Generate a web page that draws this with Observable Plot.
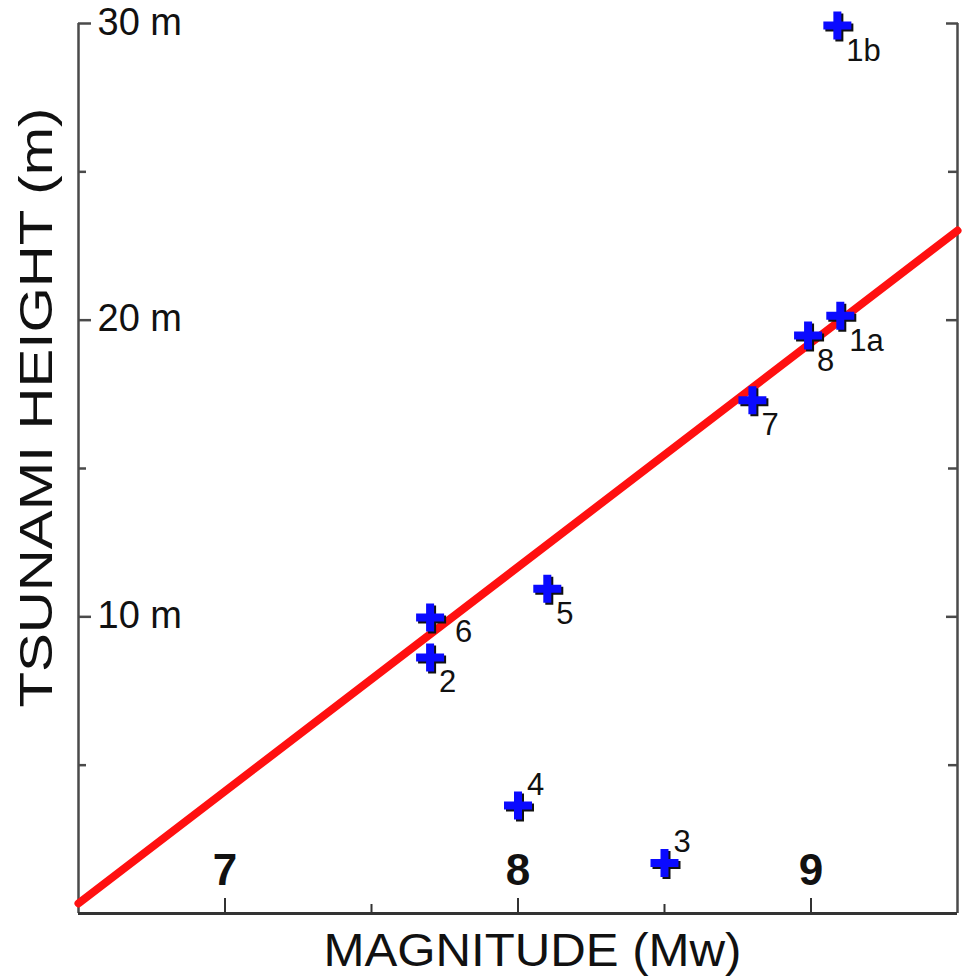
<!DOCTYPE html>
<html><head><meta charset="utf-8">
<script src="https://cdn.jsdelivr.net/npm/d3@7"></script>
<script src="https://cdn.jsdelivr.net/npm/@observablehq/plot@0.6"></script>
<style>body{margin:0;background:#fff}</style>
</head><body><div id="chart"></div>
<script>
// Data
const events = ["1a", "1b", "2", "3", "4", "5", "6", "7", "8"];
const magnitude = [9.1, 9.09, 7.7, 8.5, 8.0, 8.1, 7.7, 8.8, 8.99];
const tsunamiHeight = [20.15, 29.93, 8.63, 1.7, 3.64, 10.95, 9.98, 17.3, 19.48];
const labelPlacement = ["se", "se", "se", "ne", "ne", "se", "e", "se", "se"];
const fitMagnitude = [6.5, 9.5];
const fitHeight = [0.34, 23.02];
const yMajorTicks = [10, 20, 30];
const yMinorTicks = [5, 15, 25];
const xMajorTicks = [7, 8, 9];
const xMinorTicks = [7.5, 8.5];

const pts = events.map((e, i) => ({event: e, mag: magnitude[i], h: tsunamiHeight[i], place: labelPlacement[i]}));
const fit = fitMagnitude.map((m, i) => ({mag: m, h: fitHeight[i]}));
const offsets = {se: [9, 35], e: [25, 25], ne: [9, -11]};

const plusSymbol = {
  draw(ctx, size) {
    const r = Math.sqrt(size / Math.PI);
    ctx.moveTo(-r, 0); ctx.lineTo(r, 0);
    ctx.moveTo(0, -r); ctx.lineTo(0, r);
  }
};
const font = "'Liberation Sans', Arial, Helvetica, sans-serif";
const axisColor = "#4a4a4a";

const labelMarks = Object.entries(offsets).map(([k, [dx, dy]]) =>
  Plot.text(pts.filter(d => d.place === k), {
    x: "mag", y: "h", text: "event", dx, dy,
    textAnchor: "start", lineAnchor: "bottom", fontSize: 31, fill: "#111"
  })
);

const chart = Plot.plot({
  width: 965, height: 980,
  marginLeft: 78, marginRight: 8, marginTop: 23, marginBottom: 67,
  style: {fontFamily: font, background: "#fff", overflow: "visible"},
  x: {domain: [6.5, 9.5]},
  y: {domain: [0, 30]},
  marks: [
    Plot.ruleX([6.5], {stroke: axisColor, strokeWidth: 2.5}),
    Plot.ruleX([9.5], {stroke: axisColor, strokeWidth: 2.5}),
    Plot.ruleY([0], {stroke: "#333", strokeWidth: 3}),
    Plot.axisY({anchor: "left", ticks: yMajorTicks, tickSize: -13, tickFormat: () => "", label: null, stroke: axisColor, strokeWidth: 2.5}),
    Plot.axisY({anchor: "left", ticks: yMinorTicks, tickSize: -8, tickFormat: () => "", label: null, stroke: axisColor, strokeWidth: 2.5}),
    Plot.axisY({anchor: "right", ticks: yMajorTicks, tickSize: -12, tickFormat: () => "", label: null, stroke: axisColor, strokeWidth: 2.5}),
    Plot.axisY({anchor: "right", ticks: yMinorTicks, tickSize: -10, tickFormat: () => "", label: null, stroke: axisColor, strokeWidth: 2.5}),
    Plot.axisX({anchor: "bottom", ticks: xMajorTicks, tickSize: -15, tickFormat: () => "", label: null, stroke: "#333", strokeWidth: 2}),
    Plot.axisX({anchor: "bottom", ticks: xMinorTicks, tickSize: -9, tickFormat: () => "", label: null, stroke: "#333", strokeWidth: 2}),
    Plot.text(yMajorTicks, {y: d => d, text: d => `${d} m`, frameAnchor: "left", dx: 19, dy: -1, textAnchor: "start", lineAnchor: "middle", fontSize: 38, fill: "#111"}),
    Plot.text(xMajorTicks, {x: d => d, text: d => String(d), frameAnchor: "bottom", dy: -43, lineAnchor: "middle", fontSize: 44, fontWeight: "bold", fill: "#111"}),
    Plot.line(fit, {x: "mag", y: "h", stroke: "#ff1010", strokeWidth: 8}),
    Plot.dot(pts, {x: "mag", y: "h", symbol: plusSymbol, r: 14, fill: "none", stroke: "#111", strokeWidth: 8, dx: 2, dy: 2}),
    Plot.dot(pts, {x: "mag", y: "h", symbol: plusSymbol, r: 14, fill: "none", stroke: "#0a0aff", strokeWidth: 8}),
    ...labelMarks,
    Plot.text(["MAGNITUDE (Mw)"], {frameAnchor: "bottom-left", dx: 245, dy: 38, textAnchor: "start", lineAnchor: "middle", fontSize: 46, fill: "#111"}),
    Plot.text(["TSUNAMI HEIGHT (m)"], {frameAnchor: "left", dx: -41, dy: 239, rotate: -90, textAnchor: "start", lineAnchor: "middle", fontSize: 46, fill: "#111"})
  ]
});

const sel = d3.select(chart).selectAll("text");
sel.filter(function () { return this.textContent === "TSUNAMI HEIGHT (m)"; })
  .attr("textLength", 600).attr("lengthAdjust", "spacingAndGlyphs");
sel.filter(function () { return this.textContent === "MAGNITUDE (Mw)"; })
  .attr("textLength", 418).attr("lengthAdjust", "spacingAndGlyphs");

document.getElementById("chart").appendChild(chart);
</script>
</body></html>
